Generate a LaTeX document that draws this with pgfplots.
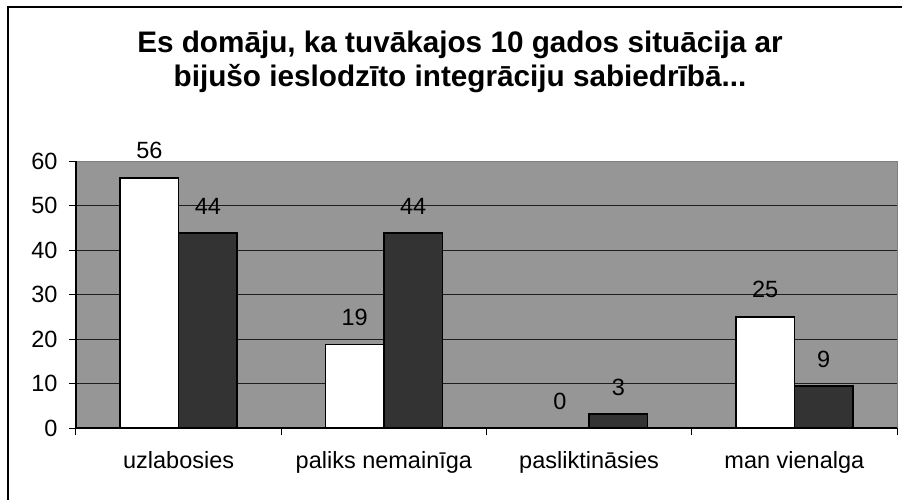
\documentclass[border=0pt]{standalone}
\usepackage{pgfplots}
\pgfplotsset{compat=1.18}
\usepackage{fontspec}
\setmainfont{Liberation Sans}
\definecolor{plotgray}{RGB}{150,150,150}
\definecolor{bordergray}{RGB}{128,128,128}
\definecolor{darkbar}{RGB}{51,51,51}
\definecolor{gridc}{RGB}{30,30,30}
\begin{document}
\begin{tikzpicture}
\useasboundingbox (0pt,0pt) rectangle (902pt,499pt);
\clip (0pt,0pt) rectangle (902pt,499pt);
\fill[white] (0pt,0pt) rectangle (902pt,499pt);
\draw[line width=2pt] (8pt,-10pt) -- (8pt,492pt) -- (915pt,492pt);
\node[font=\fontsize{29.7}{34}\selectfont\bfseries, anchor=base] at (460pt,446pt) {Es domāju, ka tuvākajos 10 gados situācija ar};
\node[font=\fontsize{29.7}{34}\selectfont\bfseries, anchor=base] at (460pt,412pt) {bijušo ieslodzīto integrāciju sabiedrībā...};
\begin{axis}[
  at={(76pt,71pt)}, anchor=south west,
  scale only axis, width=821pt, height=267pt,
  xmin=-0.5, xmax=3.5, ymin=0, ymax=60,
  ybar=0pt, bar width=58.5pt,
  axis background/.style={fill=plotgray, draw=bordergray, line width=1pt},
  axis x line*=bottom, axis y line*=left,
  axis line style={-, black, line width=1.3pt},
  tick align=outside, major tick length=7pt,
  tick style={black, line width=1pt},
  ytick={0,10,...,50}, extra y ticks={60}, extra y tick style={grid=none},
  ymajorgrids, grid style={gridc, line width=0.9pt},
  xtick={-0.5,0.5,1.5,2.5,3.5}, xticklabels={},
  extra x ticks={0,1,2,3},
  extra x tick labels={uzlabosies, paliks nemainīga, pasliktināsies, man vienalga},
  extra x tick style={major tick length=0pt, grid=none},
  /pgf/number format/assume math mode=true,
  ticklabel style={font=\fontsize{23.5}{28}\selectfont},
  xticklabel style={text height=17pt, text depth=5pt, yshift=-20pt},
  yticklabel style={xshift=-8pt},
  point meta=explicit symbolic,
  nodes near coords,
  nodes near coords style={font=\fontsize{23.5}{28}\selectfont, anchor=south, inner sep=0pt, yshift=18pt, text=black},
]
\addplot[fill=white, draw=black, line width=1.5pt] coordinates {(0,56.2) [56] (1,18.8) [19] (2,0) [0] (3,25.0) [25]};
\addplot[fill=darkbar, draw=black, line width=1.5pt] coordinates {(0,43.8) [44] (1,43.8) [44] (2,3.1) [3] (3,9.4) [9]};
\end{axis}
\end{tikzpicture}
\end{document}
